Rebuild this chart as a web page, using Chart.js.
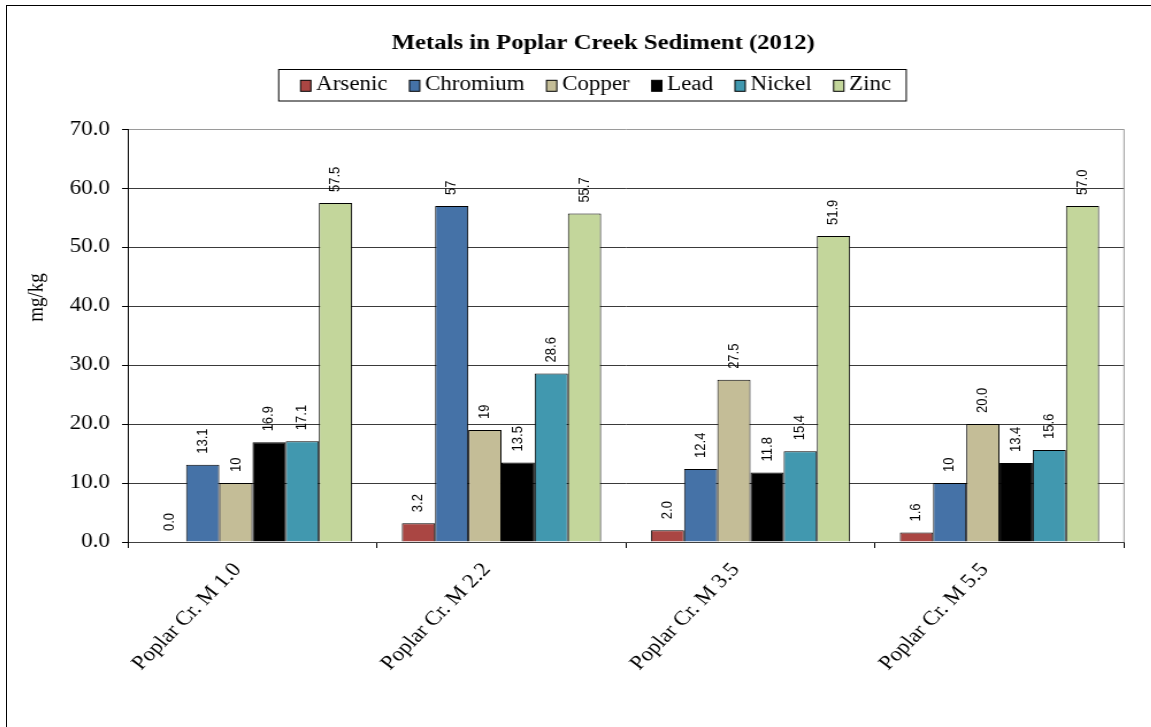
<!DOCTYPE html>
<html>
<head>
<meta charset="utf-8">
<title>Metals in Poplar Creek Sediment (2012)</title>
<script src="https://cdn.jsdelivr.net/npm/chart.js@4/dist/chart.umd.min.js"></script>
<style>
  html, body { margin: 0; padding: 0; background: #fff; overflow: hidden; }
  #frame { position: absolute; left: 6px; top: 5px; width: 1200px; height: 760px; border: 1px solid #000; }
  /* the chart is drawn narrow and widened to the frame, like the pasted original */
  #stretch { position: absolute; left: 0; top: 0; width: 1037px; height: 740px; transform: scaleX(1.15); transform-origin: 0 0; }
</style>
</head>
<body>
<div id="frame"><div id="stretch"><canvas id="chartMetals" width="1037" height="740"></canvas></div></div>
<script>
const sites = ["Poplar Cr. M 1.0", "Poplar Cr. M 2.2", "Poplar Cr. M 3.5", "Poplar Cr. M 5.5"];

const arsenic = [0.0, 3.2, 2.0, 1.6];
const chromium = [13.1, 57, 12.4, 10];
const copper = [10, 19, 27.5, 20.0];
const lead = [16.9, 13.5, 11.8, 13.4];
const nickel = [17.1, 28.6, 15.4, 15.6];
const zinc = [57.5, 55.7, 51.9, 57.0];

// decimals printed on each bar label
const arsenicDecimals = [1, 1, 1, 1];
const chromiumDecimals = [1, 0, 1, 0];
const copperDecimals = [0, 0, 1, 1];
const leadDecimals = [1, 1, 1, 1];
const nickelDecimals = [1, 1, 1, 1];
const zincDecimals = [1, 1, 1, 1];

const yMin = 0;
const yMax = 70;
const yStep = 10;

const serif = "'Liberation Serif', 'Times New Roman', serif";
const sans = "'Liberation Sans', Arial, sans-serif";

const metalColors = {
  Arsenic: "#AA4643",
  Chromium: "#4572A7",
  Copper: "#C4BD97",
  Lead: "#000000",
  Nickel: "#4198AF",
  Zinc: "#C3D69B",
};

function makeDataset(label, values, decimals) {
  return {
    label,
    data: values,
    decimals,
    backgroundColor: metalColors[label],
    borderColor: "#000",
    borderWidth: 1,
    categoryPercentage: 0.8,
    barPercentage: 1.0,
  };
}

// value printed vertically above every bar
const valueLabels = {
  id: "valueLabels",
  afterDatasetsDraw(chart) {
    const { ctx } = chart;
    ctx.save();
    ctx.font = `13px ${sans}`;
    ctx.fillStyle = "#000";
    ctx.textAlign = "left";
    ctx.textBaseline = "middle";
    chart.data.datasets.forEach((ds, i) => {
      chart.getDatasetMeta(i).data.forEach((bar, j) => {
        const text = ds.data[j].toFixed(ds.decimals[j]);
        ctx.save();
        ctx.translate(bar.x, bar.y - 11);
        ctx.rotate(-Math.PI / 2);
        ctx.fillText(text, 0, 0);
        ctx.restore();
      });
    });
    ctx.restore();
  },
};

// legend in a single row inside a thin box
const boxedLegend = {
  id: "boxedLegend",
  afterDraw(chart) {
    const { ctx } = chart;
    ctx.save();
    ctx.font = `20px ${serif}`;
    const items = chart.data.datasets.map((ds) => ({
      text: ds.label,
      color: ds.backgroundColor,
      w: ctx.measureText(ds.label).width,
    }));
    const boxW = 9, boxH = 11, gap = 4.5, itemGap = 19;
    const total =
      items.reduce((s, it) => s + boxW + gap + it.w, 0) + itemGap * (items.length - 1);
    const frameW = total + 32;
    const frameLeft = 509.1 - frameW / 2;
    ctx.strokeStyle = "#000";
    ctx.lineWidth = 1;
    ctx.strokeRect(frameLeft, 63.5, frameW, 31.5);
    let x = frameLeft + 19;
    const boxY = 79.8 - boxH / 2;
    items.forEach((it) => {
      ctx.fillStyle = it.color;
      ctx.fillRect(x, boxY, boxW, boxH);
      ctx.strokeRect(x, boxY, boxW, boxH);
      ctx.fillStyle = "#000";
      ctx.textAlign = "left";
      ctx.textBaseline = "middle";
      ctx.fillText(it.text, x + boxW + gap, 78.5);
      x += boxW + gap + it.w + itemGap;
    });
    ctx.restore();
  },
};

// y axis title and the grey right edge of the plot
const plotExtras = {
  id: "plotExtras",
  afterDraw(chart) {
    const { ctx, chartArea } = chart;
    ctx.save();
    ctx.strokeStyle = "#9a9a9a";
    ctx.lineWidth = 1;
    ctx.beginPath();
    ctx.moveTo(chartArea.right, chartArea.top);
    ctx.lineTo(chartArea.right, chartArea.bottom);
    ctx.stroke();

    ctx.translate(25.8, 291.5);
    ctx.rotate(-Math.PI / 2);
    ctx.font = `19px ${serif}`;
    ctx.fillStyle = "#000";
    ctx.textAlign = "center";
    ctx.textBaseline = "middle";
    ctx.fillText("mg/kg", 0, 0);
    ctx.restore();
  },
};

new Chart(document.getElementById("chartMetals"), {
  type: "bar",
  data: {
    labels: sites,
    datasets: [
      makeDataset("Arsenic", arsenic, arsenicDecimals),
      makeDataset("Chromium", chromium, chromiumDecimals),
      makeDataset("Copper", copper, copperDecimals),
      makeDataset("Lead", lead, leadDecimals),
      makeDataset("Nickel", nickel, nickelDecimals),
      makeDataset("Zinc", zinc, zincDecimals),
    ],
  },
  options: {
    responsive: false,
    animation: false,
    devicePixelRatio: 1,
    layout: { padding: 0 },
    plugins: {
      legend: { display: false },
      tooltip: { enabled: false },
      title: {
        display: true,
        text: "Metals in Poplar Creek Sediment (2012)",
        color: "#000",
        font: { family: serif, size: 21.5, weight: "bold" },
        padding: { top: 25, bottom: 72.5 },
      },
    },
    scales: {
      x: {
        afterFit: (scale) => {
          scale.height = 204;
        },
        grid: {
          offset: true,
          drawOnChartArea: false,
          drawTicks: true,
          tickLength: 6,
          tickColor: "#000",
        },
        border: { color: "#404040", width: 1 },
        ticks: {
          autoSkip: false,
          minRotation: 49,
          maxRotation: 49,
          labelOffset: -13,
          padding: 10.5,
          color: "#000",
          font: { family: serif, size: 20 },
        },
      },
      y: {
        min: yMin,
        max: yMax,
        afterFit: (scale) => {
          scale.width = 105.2;
        },
        grid: {
          color: (c) => (c.tick && c.tick.value === yMax ? "#9a9a9a" : "#3a3a3a"),
          lineWidth: 1,
          tickLength: 5.2,
          tickColor: "#000",
        },
        border: { color: "#000", width: 1 },
        ticks: {
          stepSize: yStep,
          padding: 10.6,
          color: "#000",
          font: { family: serif, size: 20 },
          callback: (v) => Number(v).toFixed(1),
        },
      },
      // empty strip on the right so the plot ends short of the frame
      yRight: {
        position: "right",
        afterFit: (scale) => {
          scale.width = 65.7;
        },
        grid: { display: false },
        border: { display: false },
        ticks: { display: false },
      },
    },
  },
  plugins: [valueLabels, boxedLegend, plotExtras],
});
</script>
</body>
</html>
